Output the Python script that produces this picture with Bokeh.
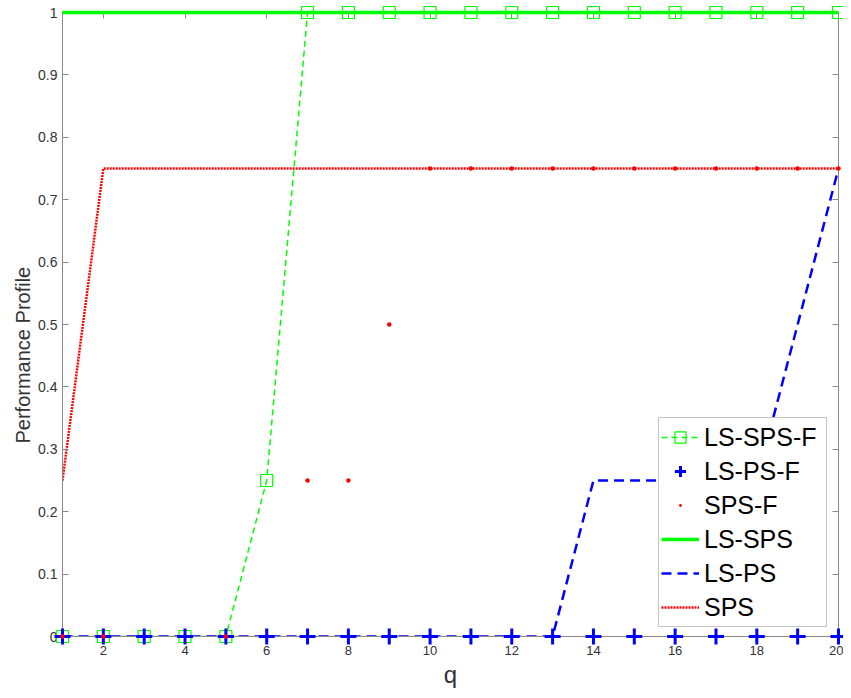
import math
import numpy as np
from bokeh.plotting import figure
from bokeh.models import (Range1d, FixedTicker, LinearAxis, Legend, LegendItem,
                          Title, CustomJSTickFormatter)
from bokeh.embed import file_html
from bokeh.resources import INLINE

# ---- data ----
q = list(range(1, 21))
ls_sps_f = [0, 0, 0, 0, 0, 0.25, 1, 1, 1, 1, 1, 1, 1, 1, 1, 1, 1, 1, 1, 1]
ls_ps_f = [0] * 20
sps_f = [0, 0, math.nan, math.nan, 0, math.nan, 0.25, 0.25, 0.5, 0.75,
         0.75, 0.75, 0.75, 0.75, 0.75, 0.75, 0.75, 0.75, 0.75, 0.75]
ls_sps = [1] * 20
ls_ps = [0, 0, 0, 0, 0, 0, 0, 0, 0, 0, 0, 0, 0, 0.25, 0.25, 0.25, 0.25, 0.25, 0.5, 0.75]
sps = [0.25, 0.75, 0.75, 0.75, 0.75, 0.75, 0.75, 0.75, 0.75, 0.75,
       0.75, 0.75, 0.75, 0.75, 0.75, 0.75, 0.75, 0.75, 0.75, 0.75]

x_ticks = [2, 4, 6, 8, 10, 12, 14, 16, 18, 20]
y_ticks = [0, 0.1, 0.2, 0.3, 0.4, 0.5, 0.6, 0.7, 0.8, 0.9, 1]
y_tick_labels = ["0", "0.1", "0.2", "0.3", "0.4", "0.5", "0.6", "0.7", "0.8", "0.9", "1"]
series_names = ["LS-SPS-F", "LS-PS-F", "SPS-F", "LS-SPS", "LS-PS", "SPS"]

FONT = "Liberation Sans"
GREEN = "#00ff00"
BLUE = "#0000ff"
RED = "#ff0000"
AXIS = "#8a8a8a"
TXT = "#333333"

# layout (pixels)
W, H = 843, 690
BOX_L, BOX_R, BOX_T, BOX_B = 62, 838, 12, 636

p = figure(width=W, height=H, x_range=Range1d(1, 20), y_range=Range1d(0, 1),
           output_backend="svg", toolbar_location=None,
           min_border_left=BOX_L, min_border_right=W - BOX_R,
           min_border_top=BOX_T, min_border_bottom=H - BOX_B)
p.grid.visible = False
p.outline_line_color = AXIS
p.background_fill_color = "white"
p.border_fill_color = "white"

def style_axis(ax):
    ax.axis_line_color = AXIS
    ax.axis_line_width = 1
    ax.major_tick_line_color = AXIS
    ax.major_tick_in = 6
    ax.major_tick_out = 0
    ax.minor_tick_line_color = None
    ax.major_label_text_font = FONT
    ax.major_label_text_color = TXT

bx = p.xaxis[0]
ly = p.yaxis[0]
style_axis(bx)
style_axis(ly)
bx.ticker = FixedTicker(ticks=x_ticks)
ly.ticker = FixedTicker(ticks=y_ticks)
ly.major_label_overrides = {v: s for v, s in zip(y_ticks, y_tick_labels)}
bx.major_label_text_font_size = "13px"
ly.major_label_text_font_size = "14px"
bx.major_label_standoff = 9
ly.major_label_standoff = 5
bx.axis_label = "q"
bx.axis_label_text_font = FONT
bx.axis_label_text_font_size = "24px"
bx.axis_label_text_font_style = "normal"
bx.axis_label_text_color = TXT
bx.axis_label_standoff = 3

# box axes (ticks only) on top and right
blank = CustomJSTickFormatter(code="return ''")
top = LinearAxis(ticker=FixedTicker(ticks=x_ticks), formatter=blank)
right = LinearAxis(ticker=FixedTicker(ticks=y_ticks), formatter=blank)
for ax in (top, right):
    style_axis(ax)
    ax.major_label_text_font_size = "0px"
    ax.major_label_standoff = 0
p.add_layout(top, "above")
p.add_layout(right, "right")

# y-axis label, placed like the reference (lower than centre)
ytitle = Title(text="Performance Profile", align="left", offset=BOX_B - 443,
               text_font=FONT, text_font_size="20px", text_font_style="normal",
               text_color=TXT, standoff=4)
p.add_layout(ytitle, "left")

q_arr = np.array(q, dtype=float)

r1l = p.line(q_arr, np.array(ls_sps_f), line_color=GREEN, line_width=1.5, line_dash="6 4")
r1m = p.scatter(q_arr, np.array(ls_sps_f), marker="square", size=12, fill_color=None,
                line_color=GREEN, line_width=1.2, level="overlay")
r2m = p.scatter(q_arr, np.array(ls_ps_f), marker="cross", size=16, line_color=BLUE,
                line_width=3, level="overlay")
r3m = p.scatter(q_arr, np.array(sps_f), marker="dot", size=18, fill_color=RED,
                line_color=RED, level="overlay")
r4 = p.line(q_arr, np.array(ls_sps), line_color=GREEN, line_width=3.5, level="overlay")
r5 = p.line(q_arr, np.array(ls_ps), line_color=BLUE, line_width=2.5, line_dash="10 6")
r6 = p.line(q_arr, np.array(sps), line_color=RED, line_width=2.5, line_dash="2 1")

legend = Legend(items=[
    LegendItem(label=series_names[0], renderers=[r1l, r1m]),
    LegendItem(label=series_names[1], renderers=[r2m]),
    LegendItem(label=series_names[2], renderers=[r3m]),
    LegendItem(label=series_names[3], renderers=[r4]),
    LegendItem(label=series_names[4], renderers=[r5]),
    LegendItem(label=series_names[5], renderers=[r6]),
], location=(658 - BOX_L, BOX_B - 627))
legend.label_text_font = FONT
legend.label_text_font_size = "25px"
legend.label_text_color = "black"
legend.label_height = 34
legend.glyph_height = 28
legend.glyph_width = 38
legend.label_width = 120
legend.label_standoff = 5
legend.spacing = 0
legend.padding = 2
legend.margin = 0
legend.border_line_color = AXIS
legend.background_fill_color = "white"
legend.background_fill_alpha = 1
p.add_layout(legend, "center")

open("out.html", "w").write(file_html(p, INLINE))
